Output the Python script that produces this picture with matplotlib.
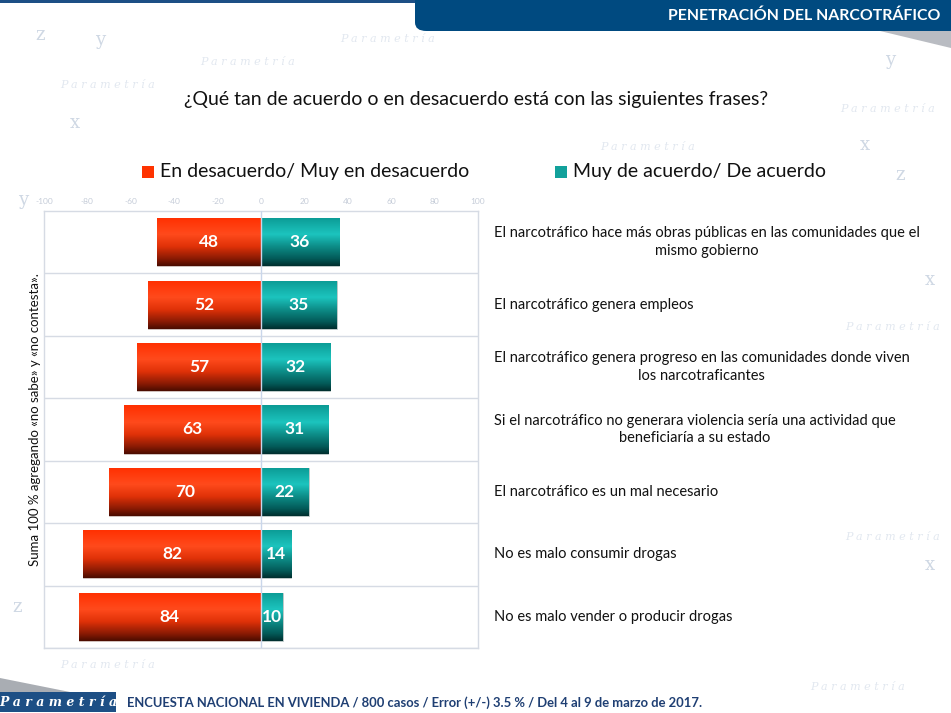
import numpy as np
import matplotlib
matplotlib.use("Agg")
import matplotlib.pyplot as plt
import matplotlib.transforms as mtransforms
from matplotlib.colors import LinearSegmentedColormap
from matplotlib.patches import FancyBboxPatch, Rectangle, Polygon

# ---------------- data ----------------
statements = [
    "El narcotráfico hace más obras públicas en las comunidades que el\nmismo gobierno",
    "El narcotráfico genera empleos",
    "El narcotráfico genera progreso en las comunidades donde viven\nlos narcotraficantes",
    "Si el narcotráfico no generara violencia sería una actividad que\nbeneficiaría a su estado",
    "El narcotráfico es un mal necesario",
    "No es malo consumir drogas",
    "No es malo vender o producir drogas",
]
desacuerdo = [48, 52, 57, 63, 70, 82, 84]
acuerdo = [36, 35, 32, 31, 22, 14, 10]
tick_values = [-100, -80, -60, -40, -20, 0, 20, 40, 60, 80, 100]

series_names = ["En desacuerdo/ Muy en desacuerdo", "Muy de acuerdo/ De acuerdo"]
title = "¿Qué tan de acuerdo o en desacuerdo está con las siguientes frases?"
header = "PENETRACIÓN DEL NARCOTRÁFICO"
side_note = "Suma 100 % agregando «no sabe» y «no contesta»."
footer = "ENCUESTA NACIONAL EN VIVIENDA / 800 casos / Error (+/-) 3.5 % / Del 4 al 9 de marzo de 2017."

FONT = ["Lato", "DejaVu Sans"]
plt.rcParams["font.family"] = FONT

W, H = 951, 713
fig = plt.figure(figsize=(W / 100, H / 100), dpi=100)
fig.patch.set_facecolor("white")

def fx(px):
    return px / W

def fy(py):
    return 1 - py / H

# ---------------- faint watermark ----------------
wm_color = "#e2e8f0"
for (px, py) in [(60, 88), (200, 65), (340, 42), (600, 150), (840, 112),
                 (810, 690), (60, 668), (845, 540), (845, 330)]:
    fig.text(fx(px), fy(py), "P a r a m e t r í a", fontsize=8, style="italic",
             color=wm_color, family=["DejaVu Serif"], zorder=0)
for (px, py, ch) in [(70, 128, "x"), (35, 40, "z"), (95, 45, "y"), (18, 205, "y"),
                     (860, 150, "x"), (895, 180, "z"), (925, 570, "x"), (12, 612, "z"),
                     (885, 65, "y"), (925, 285, "x")]:
    fig.text(fx(px), fy(py), ch, fontsize=13, color="#cfd8e4",
             family=["DejaVu Serif"], zorder=0)

# ---------------- header ----------------
fig.patches.append(Rectangle((0, fy(3)), 1, fy(0) - fy(3), transform=fig.transFigure,
                             facecolor="#1d4f85", edgecolor="none", zorder=1))
fig.patches.append(Polygon([[fx(880), fy(31)], [fx(951), fy(31)], [fx(951), fy(48)]],
                           closed=True, transform=fig.transFigure,
                           facecolor="#b9bcc2", edgecolor="none", zorder=1))
fig.patches.append(FancyBboxPatch((fx(415), fy(31)), fx(560), fy(0) - fy(31) + 0.02,
                                  boxstyle="round,pad=0,rounding_size=0.012",
                                  transform=fig.transFigure,
                                  facecolor="#004a80", edgecolor="none", zorder=2))
fig.text(fx(940), fy(16), header, ha="right", va="center", color="white",
         fontsize=11.4, fontweight="bold", zorder=3)

# ---------------- title & legend ----------------
fig.text(fx(476), fy(99), title, ha="center", va="center", fontsize=14, color="#111111")

fig.patches.append(Rectangle((fx(142), fy(178)), fx(12), fy(166) - fy(178),
                             transform=fig.transFigure, facecolor="#fe3300",
                             edgecolor="none"))
fig.text(fx(160), fy(172), series_names[0], ha="left", va="center", fontsize=14,
         color="#111111")
fig.patches.append(Rectangle((fx(555), fy(178)), fx(12), fy(166) - fy(178),
                             transform=fig.transFigure, facecolor="#12a19b",
                             edgecolor="none"))
fig.text(fx(573), fy(172), series_names[1], ha="left", va="center", fontsize=14,
         color="#111111")

# ---------------- axes ----------------
ax_left, ax_right, ax_top, ax_bottom = 44, 478, 211, 648
ax = fig.add_axes([fx(ax_left), fy(ax_bottom), fx(ax_right - ax_left),
                   fy(ax_top) - fy(ax_bottom)])
ax.set_facecolor((1, 1, 1, 0.85))
n = len(statements)
ypos = np.arange(n)

ax.set_xlim(tick_values[0], tick_values[-1])
ax.set_ylim(n - 0.5, -0.5)

red_cmap = LinearSegmentedColormap.from_list(
    "red", [(0.0, "#ff2f00"), (0.35, "#ff4a1c"), (0.6, "#e03208"), (0.85, "#8a1a04"),
            (1.0, "#4a0c00")])
teal_cmap = LinearSegmentedColormap.from_list(
    "teal", [(0.0, "#0b9a94"), (0.35, "#1cc4be"), (0.6, "#0d8d88"), (0.85, "#035a58"),
             (1.0, "#002e2e")])

bar_h = 0.77
neg = [-v for v in desacuerdo]
bars_r = ax.barh(ypos, neg, height=bar_h, color="#fe3300", edgecolor="#c8c8c8",
                 linewidth=0.6, zorder=3)
bars_t = ax.barh(ypos, acuerdo, height=bar_h, color="#12a19b", edgecolor="#c8c8c8",
                 linewidth=0.6, zorder=3)

grad = np.linspace(0, 1, 256).reshape(-1, 1)
for bars, cmap in ((bars_r, red_cmap), (bars_t, teal_cmap)):
    for p in bars:
        x0, y0 = p.get_x(), p.get_y()
        w, h = p.get_width(), p.get_height()
        im = ax.imshow(grad, cmap=cmap, aspect="auto", interpolation="bilinear",
                       extent=(min(x0, x0 + w), max(x0, x0 + w), y0 + h, y0),
                       origin="upper", zorder=3.5)
        im.set_clip_path(p)

for i in range(n):
    ax.text(-desacuerdo[i] / 2, ypos[i], str(desacuerdo[i]), ha="center", va="center",
            color="white", fontsize=12.5, fontweight="bold", zorder=5)
    ax.text(acuerdo[i] / 2, ypos[i], str(acuerdo[i]), ha="center", va="center",
            color="white", fontsize=12.5, fontweight="bold", zorder=5)

# row separators
for b in np.arange(-0.5, n, 1.0)[1:]:
    ax.axhline(b, color="#d6dbe4", linewidth=1.0, zorder=1)
ax.axvline(0, color="#c9d6ea", linewidth=1.0, zorder=4)

for s in ax.spines.values():
    s.set_color("#d6dbe4")
    s.set_linewidth(1.0)

ax.xaxis.tick_top()
ax.set_xticks(tick_values)
ax.set_xticklabels([str(v) for v in tick_values], fontsize=6, color="#c5ccd8")
ax.tick_params(axis="x", length=0, pad=4)
ax.set_yticks([])
ax.set_xlim(tick_values[0], tick_values[-1])
ax.set_ylim(n - 0.5, -0.5)

# statements on the right
trans = mtransforms.blended_transform_factory(fig.transFigure, ax.transData)
for i, s in enumerate(statements):
    ax.text(fx(494), ypos[i], s, transform=trans, ha="left", va="center",
            multialignment="center", fontsize=10.5, color="#111111",
            linespacing=1.35, clip_on=False)

# side note
fig.text(fx(35), fy(420), side_note, rotation=90, ha="center", va="center",
         fontsize=9.5, color="#111111")

# ---------------- footer ----------------
fig.patches.append(Polygon([[fx(0), fy(678)], [fx(70), fy(692)], [fx(0), fy(692)]],
                           closed=True, transform=fig.transFigure,
                           facecolor="#a9adb3", edgecolor="none"))
fig.patches.append(Rectangle((0, fy(712)), fx(116), fy(692) - fy(712),
                             transform=fig.transFigure, facecolor="#1d4f85",
                             edgecolor="none"))
fig.text(fx(58), fy(703), "P a r a m e t r í a", ha="center", va="center", color="white",
         fontsize=9, fontweight="bold", style="italic", family=["DejaVu Serif"])
fig.text(fx(127), fy(703), footer, ha="left", va="center", color="#1f3f73",
         fontsize=9.4, fontweight="bold")

fig.savefig("out.png", dpi=100)
